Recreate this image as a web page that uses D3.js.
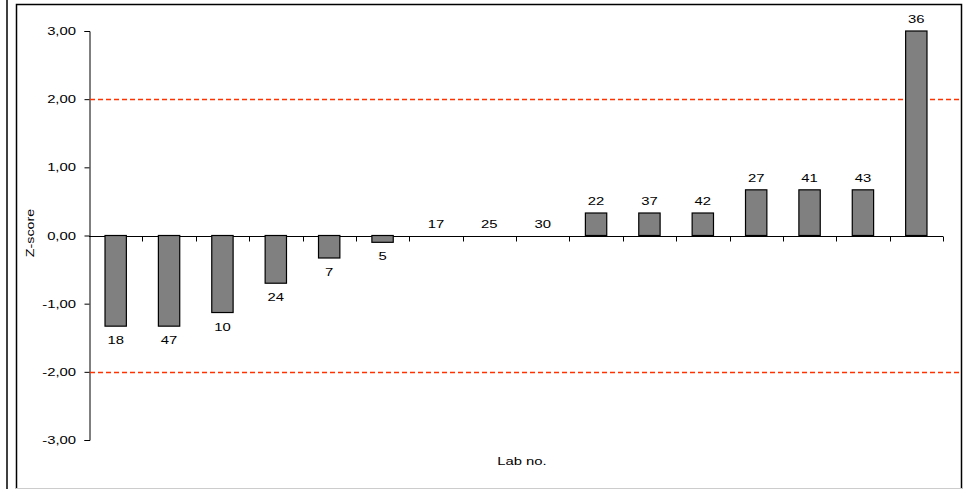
<!DOCTYPE html>
<html><head><meta charset="utf-8">
<script src="https://cdn.jsdelivr.net/npm/d3@7"></script>
<style>body{margin:0;background:#fff;}svg{display:block;font-family:"Liberation Sans",Arial,sans-serif;}</style>
</head><body>
<script>
const labs = ["18","47","10","24","7","5","17","25","30","22","37","42","27","41","43","36"];
const zscores = [-1.33,-1.33,-1.13,-0.70,-0.33,-0.10,0,0,0,0.33,0.33,0.33,0.67,0.67,0.67,3.00];
const yTicks = [-3,-2,-1,0,1,2,3];
const limits = [2,-2];

const W = 963, H = 489;
const SX = 1.35; // horizontal stretch of the text as in the reference
const svg = d3.select("body").append("svg").attr("width", W).attr("height", H);

// frames
svg.append("line").attr("x1",7).attr("x2",7).attr("y1",0).attr("y2",H).attr("stroke","#000").attr("stroke-width",1.5);
svg.append("path").attr("d",`M16.5,${H} V4.5 H961.5 V${H}`).attr("fill","none").attr("stroke","#000").attr("stroke-width",1.5);
svg.append("line").attr("x1",16).attr("x2",962).attr("y1",488.5).attr("y2",488.5).attr("stroke","#ccc").attr("stroke-width",1);

const x = d3.scaleBand().domain(labs).range([89, 943]).paddingInner(0.6).paddingOuter(0.3);
const xb = d3.scaleBand().domain(labs).range([89, 943]);
const y = d3.scaleLinear().domain([-3, 3]).range([440, 31]);

function stext(g, px, py, str, anchor) {
  return g.append("text")
    .attr("transform", `translate(${px},${py}) scale(${SX},1)`)
    .attr("text-anchor", anchor).attr("font-size", 11).attr("fill", "#000").text(str);
}

// y axis
const yAxis = d3.axisLeft(y).tickValues(yTicks).tickSize(5).tickFormat("");
const gy = svg.append("g").attr("transform","translate(89.5,0)").call(yAxis);
gy.select(".domain").attr("stroke","#000");
yTicks.forEach(t => {
  stext(svg, 76, y(t) + 4, t.toFixed(2).replace(".", ","), "end");
});

// x axis at zero with ticks at category boundaries
const y0 = Math.round(y(0)) + 0.5;
svg.append("line").attr("x1",89).attr("x2",943).attr("y1",y0).attr("y2",y0).attr("stroke","#000");
const bounds = labs.map(d => xb(d) + xb.bandwidth());
svg.selectAll(".xt").data(bounds).enter().append("line")
  .attr("x1",d=>Math.round(d)+0.5).attr("x2",d=>Math.round(d)+0.5).attr("y1",y0).attr("y2",y0+5).attr("stroke","#000");

// limit lines
svg.selectAll(".lim").data(limits).enter().append("line")
  .attr("x1",90).attr("x2",961).attr("y1",d=>Math.round(y(d))+0.5).attr("y2",d=>Math.round(y(d))+0.5)
  .attr("stroke","#ff3300").attr("stroke-width",1.3).attr("stroke-dasharray","5,3");

// bars
svg.selectAll(".bar").data(zscores).enter().append("rect")
  .attr("x",(d,i)=>x(labs[i])).attr("width",x.bandwidth())
  .attr("y",d=>y(Math.max(0,d))).attr("height",d=>Math.abs(y(d)-y(0)))
  .attr("fill","#808080").attr("stroke","#000").attr("stroke-width",1.2)
  .style("display",d=>d===0?"none":null);

// labels
zscores.forEach((d,i) => {
  stext(svg, x(labs[i]) + x.bandwidth()/2, d >= 0 ? y(d) - 8 : y(d) + 18, labs[i], "middle");
});

// axis titles
svg.append("text").attr("transform","translate(34,233) rotate(-90) scale(1.3,1)").attr("text-anchor","middle")
  .attr("font-size",11).text("Z-score");
stext(svg, 522, 465, "Lab no.", "middle");
</script>
</body></html>
